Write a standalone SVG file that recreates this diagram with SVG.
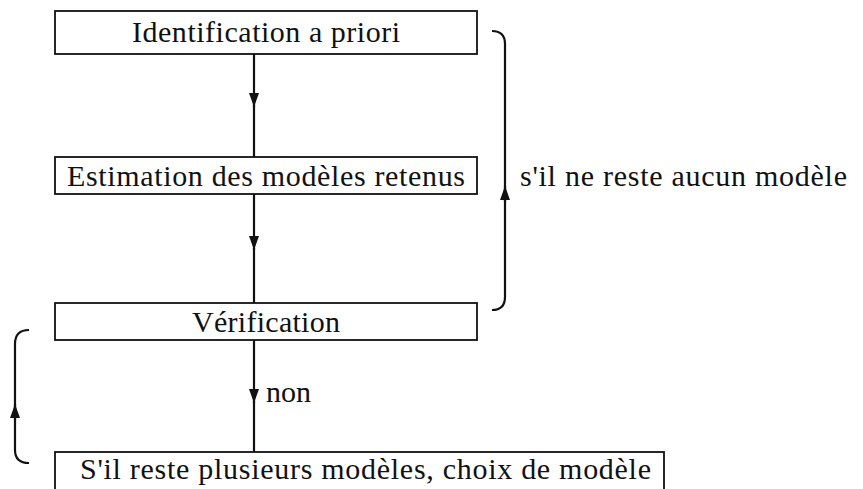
<svg xmlns="http://www.w3.org/2000/svg" width="863" height="489" viewBox="0 0 863 489">
  <style>
    .box { fill: #ffffff; stroke: #111111; stroke-width: 1.8; }
    .lbl { font-family: "Liberation Serif", "Times New Roman", serif; font-size: 30px; fill: #111111; }
    .mid { text-anchor: middle; }
    .wire { fill: none; stroke: #111111; stroke-width: 2.2; }
  </style>
  <defs>
    <!-- filled arrowhead, tip on the line end -->
    <marker id="ah" viewBox="0 0 14 10" refX="14" refY="5" markerUnits="userSpaceOnUse" markerWidth="14" markerHeight="10" orient="auto">
      <path d="M0,0 L14,5 L0,10 Z" fill="#111111"/>
    </marker>
  </defs>
  <rect width="863" height="489" fill="#ffffff"/>

  <g id="connectors">
    <!-- Identification -> Estimation -->
    <path class="wire" d="M254,54 L254,107" marker-end="url(#ah)"/>
    <path class="wire" d="M254,105 L254,157"/>
    <!-- Estimation -> Vérification -->
    <path class="wire" d="M254,194 L254,250" marker-end="url(#ah)"/>
    <path class="wire" d="M254,248 L254,303"/>
    <!-- Vérification -> choix (non) -->
    <path class="wire" d="M254,340 L254,403" marker-end="url(#ah)"/>
    <path class="wire" d="M254,401 L254,452"/>
    <text class="lbl" x="266" y="402">non</text>
    <!-- right loop back: no model left -->
    <path class="wire" d="M492,31 Q505,31 505,44 L505,297 Q505,310 492,310"/>
    <path class="wire" d="M505,202 L505,186" marker-end="url(#ah)"/>
    <text class="lbl" x="520" y="186" textLength="327">s'il ne reste aucun modèle</text>
    <!-- left loop back: several models left -->
    <path class="wire" d="M29,330 Q15,330 15,344 L15,450 Q15,463 29,463"/>
    <path class="wire" d="M15,420 L15,404" marker-end="url(#ah)"/>
  </g>

  <g id="identification">
    <rect class="box" x="55" y="11" width="422" height="43"/>
    <text class="lbl mid" x="266" y="42" textLength="268">Identification a priori</text>
  </g>

  <g id="estimation">
    <rect class="box" x="55" y="157" width="422" height="37"/>
    <text class="lbl mid" x="266" y="186" textLength="398">Estimation des modèles retenus</text>
  </g>

  <g id="verification">
    <rect class="box" x="55" y="303" width="422" height="37"/>
    <text class="lbl mid" x="266" y="332" textLength="148">Vérification</text>
  </g>

  <g id="choix">
    <rect class="box" x="55" y="452" width="609" height="60"/>
    <text class="lbl" x="80" y="479" textLength="571">S'il reste plusieurs modèles, choix de modèle</text>
  </g>
</svg>
